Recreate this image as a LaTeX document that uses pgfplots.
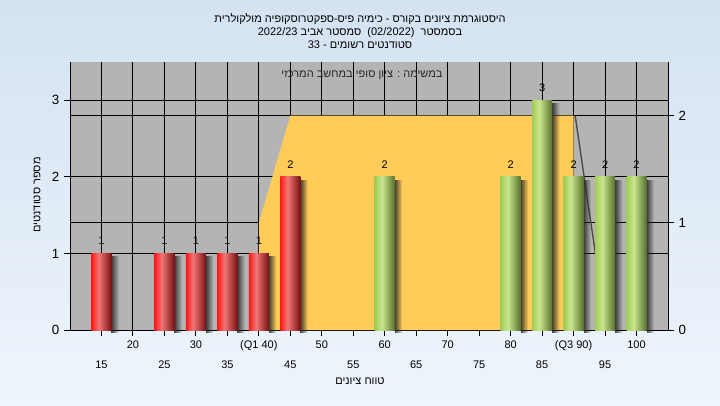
\documentclass[border=0pt]{standalone}
\usepackage{fontspec}
\setmainfont{Liberation Sans}
\newfontfamily\heb[Script=Hebrew]{Liberation Sans}
\usepackage{pgfplots}
\pgfplotsset{compat=1.18}
\usetikzlibrary{fadings}
\TeXXeTstate=1
\definecolor{bgtop}{RGB}{212,226,242}
\definecolor{bgbot}{RGB}{238,245,252}
\definecolor{plotgray}{RGB}{180,180,180}
\definecolor{orng}{RGB}{255,204,87}
\definecolor{rA}{RGB}{255,25,25}
\definecolor{rB}{RGB}{240,118,118}
\definecolor{rC}{RGB}{120,18,18}
\definecolor{gA}{RGB}{160,205,85}
\definecolor{gB}{RGB}{202,230,142}
\definecolor{gC}{RGB}{88,112,45}
\pgfdeclarehorizontalshading{redbar}{100bp}{color(0bp)=(rA); color(25bp)=(rA); color(43bp)=(rB); color(75bp)=(rC); color(100bp)=(rC)}
\pgfdeclarehorizontalshading{greenbar}{100bp}{color(0bp)=(gA); color(25bp)=(gA); color(43bp)=(gB); color(75bp)=(gC); color(100bp)=(gC)}
\tikzfading[name=shadfade, left color=transparent!15, right color=transparent!100]

\pgfplotsset{
  geom/.style={at={(52.5pt,-247.5pt)}, anchor=south west, scale only axis,
    width=448.5pt, height=201pt, xmin=-1, xmax=18,
    tick align=outside, major tick length=4.5pt,
    grid style={black, line width=0.75pt},
    axis line style={black, line width=0.75pt},
    tick style={black, line width=0.75pt},
    yticklabel style={font=\fontsize{10}{12}\selectfont},
    /pgf/number format/assume math mode=true},
  rbar/.style={ybar, bar shift=0pt, bar width=15pt, draw=none, shading=redbar, nodes near coords},
  gbar/.style={ybar, bar shift=0pt, bar width=15pt, draw=none, shading=greenbar, nodes near coords},
  shad/.style={ybar, bar shift=10.3pt, bar width=5.6pt, draw=none, fill=black!85, path fading=shadfade, yshift=-2.25pt},
}

\begin{document}
\begin{tikzpicture}[x=0.75pt,y=-0.75pt]
\shade[top color=bgtop,bottom color=bgbot] (0,0) rectangle (720,405);
\useasboundingbox (0,0) rectangle (720,405);

\begin{axis}[geom, ymin=0, ymax=2.5, axis y line*=right, hide x axis,
  ytick={0,1,2}, ymajorgrids, axis background/.style={fill=plotgray}]
\end{axis}

\begin{axis}[geom, ymin=0, ymax=3.5, axis x line*=bottom, axis y line*=left,
  xtick={0,...,17}, ytick={0,1,2,3}, xmajorgrids, ymajorgrids, clip=false,
  xticklabel style={align=center, font=\fontsize{8.25}{12.3}\selectfont},
  xticklabels={{\strut\\15},{20\\\strut},{\strut\\25},{30\\\strut},{\strut\\35},{(Q1 40)\\\strut},
    {\strut\\45},{50\\\strut},{\strut\\55},{60\\\strut},{\strut\\65},{70\\\strut},
    {\strut\\75},{80\\\strut},{\strut\\85},{(Q3 90)\\\strut},{\strut\\95},{100\\\strut}},
  nodes near coords style={font=\fontsize{8.25}{10}\selectfont, text=black, anchor=south, yshift=3pt},
]
% normal-curve band (right-axis units 1 and 2 drawn as 1.4 and 2.8 on the left axis)
\addplot[fill=orng, draw=none] coordinates {(5,1.4) (6,2.8) (15,2.8)} \closedcycle;
\addplot[draw=black!72, line width=1pt] coordinates {(15.05,2.8) (15.7,0.98)};
% shadows
\addplot[shad] coordinates {(0,1)};
\addplot[shad] coordinates {(2,1)};
\addplot[shad] coordinates {(3,1)};
\addplot[shad] coordinates {(4,1)};
\addplot[shad] coordinates {(5,1)};
\addplot[shad] coordinates {(6,2)};
\addplot[shad] coordinates {(9,2)};
\addplot[shad] coordinates {(13,2)};
\addplot[shad] coordinates {(14,3)};
\addplot[shad] coordinates {(15,2)};
\addplot[shad] coordinates {(16,2)};
\addplot[shad] coordinates {(17,2)};
% bars: 15,25,30,35,40,45 (red) and 60,80,85,90,95,100 (green)
\addplot[rbar] coordinates {(0,1)};
\addplot[rbar] coordinates {(2,1)};
\addplot[rbar] coordinates {(3,1)};
\addplot[rbar] coordinates {(4,1)};
\addplot[rbar] coordinates {(5,1)};
\addplot[rbar] coordinates {(6,2)};
\addplot[gbar] coordinates {(9,2)};
\addplot[gbar] coordinates {(13,2)};
\addplot[gbar] coordinates {(14,3)};
\addplot[gbar] coordinates {(15,2)};
\addplot[gbar] coordinates {(16,2)};
\addplot[gbar] coordinates {(17,2)};
\end{axis}

\node[align=center, font=\heb\fontsize{8.25}{9.6}\selectfont] at (360,31)
  {\beginR היסטוגרמת ציונים בקורס - כימיה פיס-ספקטרוסקופיה מולקולרית\endR\\
   \beginR בסמסטר\ \ \beginL(02/2022)\endL{}\ \ סמסטר אביב \beginL 2022/23\endL\endR\\
   \beginR סטודנטים רשומים - \beginL 33\endL\endR};
\node[font=\heb\fontsize{8.25}{10}\selectfont, text=black!85] at (362,75) {\beginR במשימה : ציון סופי במחשב המרכזי\endR};
\node[font=\heb\fontsize{8.25}{10}\selectfont] at (360,381) {\beginR טווח ציונים\endR};
\node[font=\heb\fontsize{8.25}{10}\selectfont, rotate=90] at (37,195) {\beginR מספר סטודנטים\endR};
\end{tikzpicture}
\end{document}
